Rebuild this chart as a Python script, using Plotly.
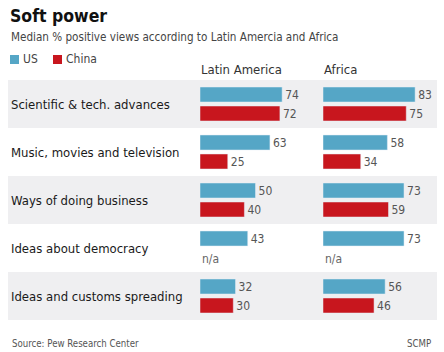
import plotly.graph_objects as go

categories = ["Scientific & tech. advances", "Music, movies and television",
              "Ways of doing business", "Ideas about democracy",
              "Ideas and customs spreading"]
latam_us = [74, 63, 50, 43, 32]
latam_china = [72, 25, 40, None, 30]
africa_us = [83, 58, 73, 73, 56]
africa_china = [75, 34, 59, None, 46]

BLUE = "#55a6c6"
RED = "#c8161e"
FONT = "Liberation Sans Narrow, DejaVu Sans Condensed, Roboto Condensed, Roboto, sans-serif"
W, H = 444, 352

def px(x):
    return x / W

def py(y):
    return 1 - y / H

fig = go.Figure()
def lbl(vals):
    return ["" if v is None else str(v) for v in vals]

for xa, us, cn in [("x", latam_us, latam_china), ("x2", africa_us, africa_china)]:
    fig.add_trace(go.Bar(y=categories, x=us, orientation="h", name="US", marker_color=BLUE,
                         text=lbl(us), textposition="outside", cliponaxis=False, constraintext="none",
                         textfont=dict(size=12, color="#555555", family=FONT),
                         xaxis=xa, yaxis="y", showlegend=False, hoverinfo="skip"))
    fig.add_trace(go.Bar(y=categories, x=cn, orientation="h", name="China", marker_color=RED,
                         text=lbl(cn), textposition="outside", cliponaxis=False, constraintext="none",
                         textfont=dict(size=12, color="#555555", family=FONT),
                         xaxis=xa, yaxis="y", showlegend=False, hoverinfo="skip"))

shapes = []
for i, c in enumerate(categories):
    if i % 2 == 0:
        shapes.append(dict(type="rect", xref="paper", yref="y", x0=px(8), x1=px(437),
                           y0=i - 0.5, y1=i + 0.5, fillcolor="#efeff1", line_width=0, layer="below"))

annotations = []
for c in categories:
    annotations.append(dict(xref="paper", yref="y", x=px(9), y=c, text=c, showarrow=False,
                            xanchor="left", yanchor="middle", font=dict(size=13, color="#1a1a1a", family=FONT)))
for xa, vals in [("x", latam_china), ("x2", africa_china)]:
    for c, v in zip(categories, vals):
        if v is None:
            annotations.append(dict(xref=xa, yref="y", x=0, y=c, text="n/a", showarrow=False,
                                    xanchor="left", yanchor="middle", yshift=-11,
                                    font=dict(size=12, color="#666666", family=FONT)))

annotations += [
    dict(xref="paper", yref="paper", x=px(8), y=py(4), text="<b>Soft power</b>", showarrow=False,
         xanchor="left", yanchor="top", font=dict(size=17.5, color="#111111", family=FONT)),
    dict(xref="paper", yref="paper", x=px(9), y=py(28), text="Median % positive views according to Latin Amercia and Africa",
         showarrow=False, xanchor="left", yanchor="top", font=dict(size=11.6, color="#444444", family=FONT)),
    dict(xref="paper", yref="paper", x=px(21), y=py(59), text="US", showarrow=False,
         xanchor="left", yanchor="middle", font=dict(size=12, color="#444444", family=FONT)),
    dict(xref="paper", yref="paper", x=px(64), y=py(59), text="China", showarrow=False,
         xanchor="left", yanchor="middle", font=dict(size=12, color="#444444", family=FONT)),
    dict(xref="paper", yref="paper", x=px(199), y=py(69), text="Latin America", showarrow=False,
         xanchor="left", yanchor="middle", font=dict(size=13, color="#333333", family=FONT)),
    dict(xref="paper", yref="paper", x=px(322), y=py(69), text="Africa", showarrow=False,
         xanchor="left", yanchor="middle", font=dict(size=13, color="#333333", family=FONT)),
    dict(xref="paper", yref="paper", x=px(10), y=py(343), text="Source: Pew Research Center", showarrow=False,
         xanchor="left", yanchor="middle", font=dict(size=9.6, color="#555555", family=FONT)),
    dict(xref="paper", yref="paper", x=px(433), y=py(343), text="SCMP", showarrow=False,
         xanchor="right", yanchor="middle", font=dict(size=9.6, color="#555555", family=FONT)),
]
shapes += [
    dict(type="rect", xref="paper", yref="paper", x0=px(10), x1=px(19), y0=py(64), y1=py(55),
         fillcolor=BLUE, line_width=0),
    dict(type="rect", xref="paper", yref="paper", x0=px(53), x1=px(62), y0=py(64), y1=py(55),
         fillcolor=RED, line_width=0),
]

axis_common = dict(range=[0, 100], showgrid=False, zeroline=False, showticklabels=False,
                   showline=False, ticks="", fixedrange=True)
fig.update_layout(
    width=W, height=H, margin=dict(l=0, r=0, t=0, b=0),
    paper_bgcolor="white", plot_bgcolor="rgba(0,0,0,0)",
    barmode="group", bargap=10 / 48, bargroupgap=4 / 19,
    xaxis=dict(domain=[px(200), px(311)], anchor="y", **axis_common),
    xaxis2=dict(domain=[px(323), px(434)], anchor="y", **axis_common),
    yaxis=dict(domain=[py(320), py(80)], range=[4.5, -0.5], categoryorder="array",
               categoryarray=categories, showticklabels=False, showgrid=False, zeroline=False,
               showline=False, ticks="", fixedrange=True),
    shapes=shapes, annotations=annotations, showlegend=False,
    font=dict(family=FONT),
)
fig.write_html("out.html")
